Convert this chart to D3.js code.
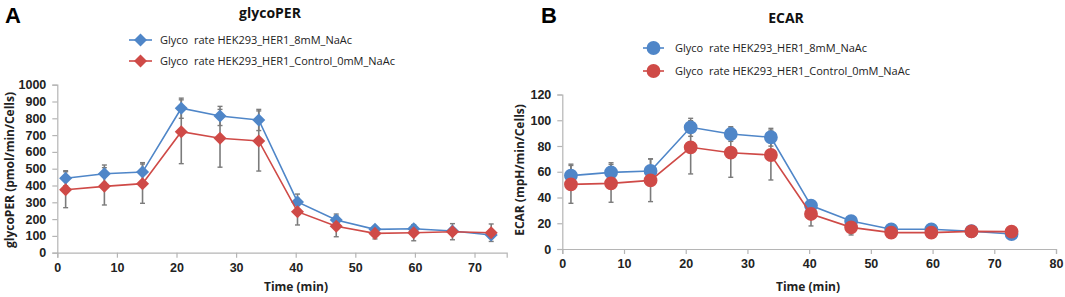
<!DOCTYPE html>
<html><head><meta charset="utf-8">
<script src="https://cdn.jsdelivr.net/npm/d3@7"></script>
<style>
body{margin:0;background:#fff;}
svg{display:block;font-family:"Open Sans","Liberation Sans",sans-serif;}
</style></head>
<body><svg id="c" width="1065" height="297"></svg>
<script>
// ---------- data ----------
const times = [1.4, 7.9, 14.3, 20.8, 27.3, 33.8, 40.3, 46.8, 53.3, 59.8, 66.3, 72.8];
const seriesNames = ["Glyco  rate HEK293_HER1_8mM_NaAc", "Glyco  rate HEK293_HER1_Control_0mM_NaAc"];

const perBlue    = [443, 470, 480, 860, 814, 790, 302, 195, 139, 143, 129, 105];
const perBlueErr = [45, 52, 56, 60, 57, 63, 47, 35, 14, 15, 20, 18];
const perRed     = [375, 395, 411, 720, 681, 665, 244, 157, 115, 119, 125, 119];
const perRedErr  = [107, 111, 117, 190, 172, 179, 79, 62, 33, 48, 48, 52];

const ecarBlue    = [57, 59.5, 60.6, 94.5, 89.3, 86.8, 33.7, 21.7, 15.3, 15.3, 13.8, 11.6];
const ecarBlueErr = [8.9, 7.5, 9.5, 7, 5.7, 6.9, 3, 2, 1.5, 1.5, 2, 2];
const ecarRed     = [50.2, 51, 53.3, 79, 74.8, 73, 27.2, 16.8, 12.7, 12.7, 13.7, 13.5];
const ecarRedErr  = [14.7, 14.7, 16.5, 20.7, 19.1, 19.4, 9.3, 5.9, 3, 3, 3, 3];

const perYTicks  = [0,100,200,300,400,500,600,700,800,900,1000];
const perXTicks  = [0,10,20,30,40,50,60,70];
const ecarYTicks = [0,20,40,60,80,100,120];
const ecarXTicks = [0,10,20,30,40,50,60,70,80];

// ---------- drawing ----------
const svg = d3.select("#c");
const BLUE = "#4f86c8", RED = "#cf4a47", AXIS = "#b5b5b5", ERR = "#7b7b7b", TXT = "#222";

function panel(o) {
  const g = svg.append("g");
  const x = d3.scaleLinear().domain(o.xDomain).range(o.xRange);
  const y = d3.scaleLinear().domain(o.yDomain).range(o.yRange);

  const ax = g.append("g").attr("transform", `translate(0,${o.yRange[0]})`)
    .call(d3.axisBottom(x).tickValues(o.xTicks).tickSize(5).tickPadding(5).tickFormat(d3.format("d")));
  const ay = g.append("g").attr("transform", `translate(${o.xRange[0]},0)`)
    .call(d3.axisLeft(y).tickValues(o.yTicks).tickSize(5).tickPadding(o.yPad).tickFormat(d3.format("d")));
  [ax, ay].forEach(a => {
    a.select(".domain").attr("stroke", AXIS).attr("stroke-width", 1.2);
    a.selectAll(".tick line").attr("stroke", AXIS).attr("stroke-width", 1.2);
    a.selectAll(".tick text").attr("fill", TXT).style("font-size", "12.5px").style("font-weight", "600");
  });

  const series = [
    {v: o.blue, e: o.blueErr, c: BLUE},
    {v: o.red, e: o.redErr, c: RED}
  ];
  const eg = g.append("g");
  series.forEach(s => {
    times.forEach((t, i) => {
      const cx = x(t), y0 = y(s.v[i] - s.e[i]), y1 = y(s.v[i] + s.e[i]);
      eg.append("line").attr("x1", cx).attr("x2", cx).attr("y1", y0).attr("y2", y1)
        .attr("stroke", ERR).attr("stroke-width", 1.6);
      [y0, y1].forEach(yy => eg.append("line").attr("x1", cx - 2.5).attr("x2", cx + 2.5)
        .attr("y1", yy).attr("y2", yy).attr("stroke", ERR).attr("stroke-width", 1.4));
    });
  });

  const sym = d3.symbol().type(o.shape).size(o.symSize);
  const rot = o.diamond ? " rotate(45)" : "";
  const line = d3.line().x((d, i) => x(times[i])).y(d => y(d));
  series.forEach(s => {
    g.append("path").datum(s.v).attr("d", line).attr("fill", "none")
      .attr("stroke", s.c).attr("stroke-width", 1.6);
    g.selectAll(null).data(s.v).enter().append("path")
      .attr("d", sym)
      .attr("transform", (d, i) => `translate(${x(times[i])},${y(d)})${rot}`)
      .attr("fill", s.c);
  });

  g.append("text").attr("x", o.titleX).attr("y", o.titleY).attr("text-anchor", "middle")
    .attr("fill", "#111").style("font-size", "14px").style("font-weight", "700").text(o.title);
  g.append("text").attr("x", o.letterX).attr("y", 23).attr("fill", "#000")
    .style("font-size", "22px").style("font-weight", "700").style("font-family", "Liberation Sans, Arial, sans-serif")
    .text(o.letter);

  g.append("text").attr("x", o.xLabelX).attr("y", 291).attr("text-anchor", "middle")
    .attr("fill", TXT).style("font-size", "12px").style("font-weight", "700").text("Time (min)");
  g.append("text").attr("transform", `translate(${o.yLabelX},${o.yLabelY}) rotate(-90)`)
    .attr("text-anchor", "middle").attr("fill", TXT).style("font-size", "12px").style("font-weight", "700")
    .text(o.yLabel);

  series.forEach((s, i) => {
    const ly = o.legY[i];
    g.append("line").attr("x1", o.legX0).attr("x2", o.legX1).attr("y1", ly).attr("y2", ly)
      .attr("stroke", s.c).attr("stroke-width", 1.6);
    g.append("path").attr("d", sym())
      .attr("transform", `translate(${(o.legX0 + o.legX1) / 2},${ly})${rot}`).attr("fill", s.c);
    g.append("text").attr("x", o.legTX).attr("y", ly + 4).attr("fill", TXT)
      .attr("xml:space", "preserve").style("white-space", "pre")
      .style("font-size", "11px").text(seriesNames[i]);
  });
}

panel({
  xDomain: [0, 75.4], xRange: [57.3, 506.7], yDomain: [0, 1000], yRange: [252.7, 84.7],
  xTicks: perXTicks, yTicks: perYTicks, yPad: 6,
  blue: perBlue, blueErr: perBlueErr, red: perRed, redErr: perRedErr,
  shape: d3.symbolSquare, diamond: true, symSize: 85,
  title: "glycoPER", titleX: 270, titleY: 18, letter: "A", letterX: 5,
  xLabelX: 296, yLabel: "glycoPER (pmol/min/Cells)", yLabelX: 14, yLabelY: 170,
  legX0: 129, legX1: 152, legY: [40, 61], legTX: 160
});
panel({
  xDomain: [0, 80], xRange: [562.3, 1056], yDomain: [0, 120], yRange: [249, 94.5],
  xTicks: ecarXTicks, yTicks: ecarYTicks, yPad: 6,
  blue: ecarBlue, blueErr: ecarBlueErr, red: ecarRed, redErr: ecarRedErr,
  shape: d3.symbolCircle, diamond: false, symSize: 150,
  title: "ECAR", titleX: 786, titleY: 23, letter: "B", letterX: 541,
  xLabelX: 808, yLabel: "ECAR (mpH/min/Cells)", yLabelX: 524, yLabelY: 170,
  legX0: 643, legX1: 664, legY: [48, 71], legTX: 675
});
</script>
</body></html>
